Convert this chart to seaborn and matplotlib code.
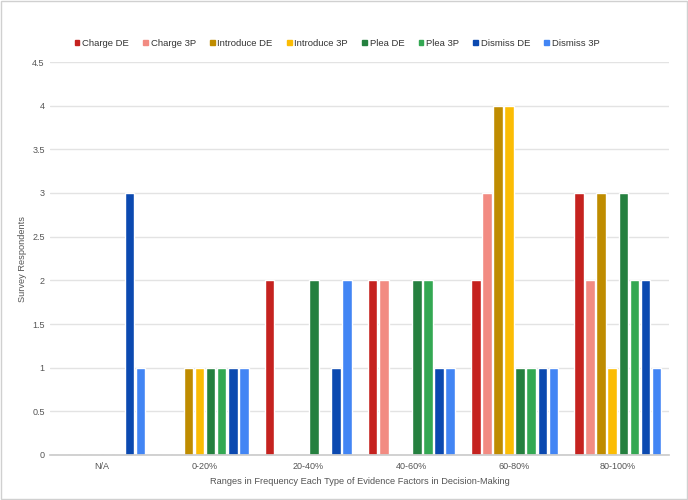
import pandas as pd
import matplotlib.pyplot as plt
import seaborn as sns
from matplotlib.patches import Rectangle

# Datos
rangos = ["N/A", "0-20%", "20-40%", "40-60%", "60-80%", "80-100%"]
series = ["Charge DE", "Charge 3P", "Introduce DE", "Introduce 3P",
          "Plea DE", "Plea 3P", "Dismiss DE", "Dismiss 3P"]
charge_de = [0, 0, 2, 2, 2, 3]
charge_3p = [0, 0, 0, 2, 3, 2]
introduce_de = [0, 1, 0, 0, 4, 3]
introduce_3p = [0, 1, 0, 0, 4, 1]
plea_de = [0, 1, 2, 2, 1, 3]
plea_3p = [0, 1, 0, 2, 1, 2]
dismiss_de = [3, 1, 1, 1, 1, 2]
dismiss_3p = [1, 1, 2, 1, 1, 1]
colores = ["#c5221f", "#f28b82", "#bf8c00", "#fbbc04",
           "#25803f", "#34a853", "#0b49b0", "#4285f4"]

valores = [charge_de, charge_3p, introduce_de, introduce_3p,
           plea_de, plea_3p, dismiss_de, dismiss_3p]
filas = []
for s, vals in zip(series, valores):
    for r, v in zip(rangos, vals):
        filas.append({"rango": r, "serie": s, "valor": v})
df = pd.DataFrame(filas)

sns.set_theme(style="white")
plt.rcParams["font.family"] = ["Liberation Sans", "DejaVu Sans"]

fig = plt.figure(figsize=(6.88, 5), dpi=100)
ax = fig.add_axes([0.073, 0.09, 0.90, 0.786])
sns.barplot(data=df, x="rango", y="valor", hue="serie", order=rangos,
            hue_order=series, palette=colores, width=0.86, gap=0.13,
            saturation=1, ax=ax, legend=False)

ax.set_ylim(0, 4.5)
ax.set_yticks([0, 0.5, 1, 1.5, 2, 2.5, 3, 3.5, 4, 4.5])
ax.set_yticklabels(["0", "0.5", "1", "1.5", "2", "2.5", "3", "3.5", "4", "4.5"])
ax.yaxis.grid(True, color="#e3e3e3", linewidth=1)
ax.set_axisbelow(True)
for lado in ["top", "right", "left"]:
    ax.spines[lado].set_visible(False)
ax.spines["bottom"].set_color("#cccccc")
ax.tick_params(axis="y", length=0, labelsize=6.5, colors="#555555", pad=4)
ax.tick_params(axis="x", length=0, labelsize=6.5, colors="#555555", pad=5)
ax.set_xlabel("Ranges in Frequency Each Type of Evidence Factors in Decision-Making",
              fontsize=6.7, color="#555555", labelpad=4)
ax.set_ylabel("Survey Respondents", fontsize=6.7, color="#555555", labelpad=4)

# Leyenda
handles = [Rectangle((0, 0), 1, 1, color=c) for c in colores]
fig.legend(handles, series, loc="center", bbox_to_anchor=(0.49, 0.913), ncol=8,
           frameon=False, fontsize=6.8, handlelength=0.5, handleheight=0.5,
           handletextpad=0.3, columnspacing=1.5, labelcolor="#333333")

# Borde
fig.patches.append(Rectangle((0.002, 0.002), 0.996, 0.996, transform=fig.transFigure,
                             fill=False, edgecolor="#d0d0d0", linewidth=1))

fig.savefig("out.png", dpi=100)
